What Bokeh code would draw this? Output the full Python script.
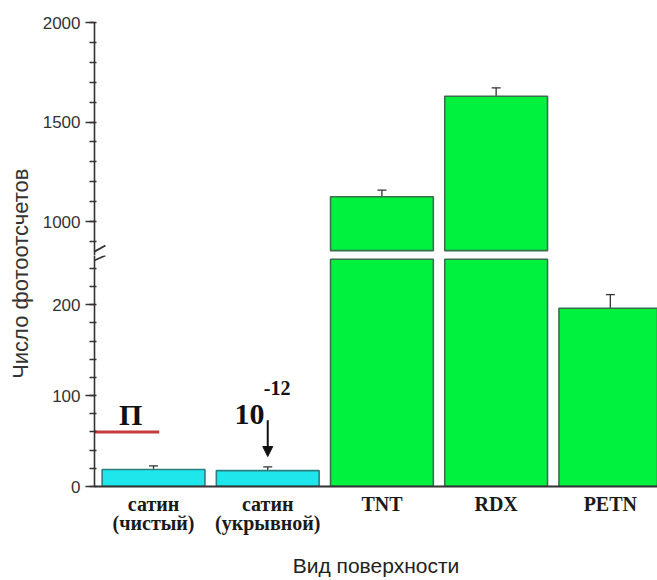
import math
from bokeh.plotting import figure
from bokeh.models import (ColumnDataSource, Range1d, SingleIntervalTicker, Whisker,
                          TeeHead, Label, Arrow, NormalHead, FixedTicker)
from bokeh.layouts import row, column
from bokeh.core.properties import value
from bokeh.embed import file_html
from bokeh.resources import INLINE

# ---- data ----
categories = ["сатин\n(чистый)", "сатин\n(укрывной)", "TNT", "RDX", "PETN"]
counts = [18.7, 17.5, 1125, 1630, 196]
errors = [4, 4, 33, 42, 15]
threshold = 60                      # level "П"

# axis break: lower panel ends / upper panel starts
BREAK_LOW = 250
BREAK_HIGH = 854

# ---- styles ----
fills = ["#1ee6ea", "#1ee6ea", "#00f23e", "#00f23e", "#00f23e"]
edges = ["#2b7f80", "#2b7f80", "#3b6e4c", "#3b6e4c", "#3b6e4c"]
AX = "#333333"
SANS = "Liberation Sans"
SERIF = "Liberation Serif"

idx = list(range(len(categories)))
xr = Range1d(-0.517, 4.413)
top_yr = Range1d(829.6, 2000.5)
bot_yr = Range1d(0, 254.1)

low = dict(x=idx, top=[min(v, BREAK_LOW) for v in counts], bottom=[0] * len(idx),
           fill=fills, edge=edges)
low_err = dict(x=[i for i, v in zip(idx, counts) if v < BREAK_LOW],
               upper=[v + e for v, e in zip(counts, errors) if v < BREAK_LOW],
               lower=[v - e for v, e in zip(counts, errors) if v < BREAK_LOW])
hi_sel = [i for i, v in zip(idx, counts) if v > BREAK_HIGH]
high = dict(x=hi_sel, top=[counts[i] for i in hi_sel], bottom=[BREAK_HIGH] * len(hi_sel),
            fill=[fills[i] for i in hi_sel], edge=[edges[i] for i in hi_sel])
high_err = dict(x=hi_sel, upper=[counts[i] + errors[i] for i in hi_sel],
                lower=[counts[i] - errors[i] for i in hi_sel])


def style_yaxis(ax):
    ax.axis_line_color = AX
    ax.axis_line_width = 1.6
    ax.major_tick_line_color = AX
    ax.major_tick_line_width = 1.6
    ax.major_tick_out = 9
    ax.major_tick_in = 0
    ax.minor_tick_line_color = AX
    ax.minor_tick_line_width = 1.6
    ax.minor_tick_out = 5
    ax.minor_tick_in = 2
    ax.major_label_text_font = SANS
    ax.major_label_text_font_size = "17px"
    ax.major_label_text_color = AX
    ax.major_label_standoff = 5


def base_fig(height, y_range, **kw):
    p = figure(width=619, height=height, x_range=xr, y_range=y_range,
               output_backend="svg", toolbar_location=None,
               min_border_left=56, min_border_right=0, **kw)
    p.xgrid.visible = False
    p.ygrid.visible = False
    p.outline_line_color = None
    p.background_fill_color = "white"
    return p


def whisker(src):
    return Whisker(source=ColumnDataSource(src), base="x", upper="upper", lower="lower",
                   line_color=AX, line_width=1.3,
                   upper_head=TeeHead(size=9, line_color=AX, line_width=1.3),
                   lower_head=TeeHead(size=9, line_color=AX, line_width=1.3))


# ---- upper panel ----
p_top = base_fig(255, top_yr, x_axis_location=None, min_border_top=22, min_border_bottom=0)
p_top.yaxis[0].ticker = SingleIntervalTicker(interval=500, num_minor_ticks=5)
style_yaxis(p_top.yaxis[0])
p_top.vbar(x="x", top="top", bottom="bottom", width=0.9, source=ColumnDataSource(high),
           fill_color="fill", line_color="edge", line_width=1.6)
p_top.add_layout(whisker(high_err))
# upper stroke of the axis-break mark
p_top.add_layout(Arrow(end=None, x_start=xr.start - 0.061, y_start=top_yr.start,
                       x_end=xr.start + 0.096, y_end=880,
                       line_color=AX, line_width=1.8))

# ---- lower panel ----
p_bot = base_fig(325, bot_yr, min_border_top=0, min_border_bottom=93)
p_bot.yaxis[0].ticker = SingleIntervalTicker(interval=100, num_minor_ticks=5)
style_yaxis(p_bot.yaxis[0])
p_bot.vbar(x="x", top="top", bottom="bottom", width=0.9, source=ColumnDataSource(low),
           fill_color="fill", line_color="edge", line_width=1.6)
p_bot.add_layout(whisker(low_err))
# lower stroke of the axis-break mark
p_bot.add_layout(Arrow(end=None, x_start=xr.start - 0.061, y_start=245.3,
                       x_end=xr.start + 0.096, y_end=bot_yr.end,
                       line_color=AX, line_width=1.8))

xa = p_bot.xaxis[0]
xa.ticker = FixedTicker(ticks=idx)
xa.major_label_overrides = {i: c for i, c in zip(idx, categories)}
xa.axis_line_color = AX
xa.axis_line_width = 2
xa.major_tick_line_color = None
xa.minor_tick_line_color = None
xa.major_label_text_font = SERIF
xa.major_label_text_font_style = "bold"
xa.major_label_text_font_size = "20px"
xa.major_label_text_color = "#1a1a1a"
xa.major_label_text_line_height = 0.9
xa.major_label_standoff = 0
xa.axis_label = "Вид поверхности"
xa.axis_label_text_font = SANS
xa.axis_label_text_font_style = "normal"
xa.axis_label_text_font_size = "21px"
xa.axis_label_text_color = "#222222"
xa.axis_label_standoff = 17

# threshold line "П"
p_bot.segment(x0=xr.start, y0=threshold, x1=0.05, y1=threshold,
              line_color="#c8393c", line_width=3)
p_bot.add_layout(Label(x=-0.2, y=79, text="П", text_align="center",
                       text_baseline="alphabetic", text_font=SERIF,
                       text_font_style="bold", text_font_size="30px", text_color="#111111"))
# sensitivity annotation 10^-12
p_bot.add_layout(Label(x=0.84, y=79, text="10", text_align="center",
                       text_baseline="alphabetic", text_font=SERIF,
                       text_font_style="bold", text_font_size="30px", text_color="#111111"))
p_bot.add_layout(Label(x=0.965, y=108, text="-12", text_align="left",
                       text_baseline="alphabetic", text_font=SERIF,
                       text_font_style="bold", text_font_size="20px", text_color="#111111"))
p_bot.add_layout(Arrow(end=NormalHead(size=10, fill_color="#111111", line_color="#111111"),
                       x_start=1.0, y_start=73, x_end=1.0, y_end=33,
                       line_color="#111111", line_width=2))

# ---- y title panel ----
p_title = figure(width=38, height=580, x_range=(0, 1), y_range=(0, 1),
                 output_backend="svg", toolbar_location=None,
                 min_border=0, x_axis_location=None, y_axis_location=None)
p_title.xgrid.visible = False
p_title.ygrid.visible = False
p_title.outline_line_color = None
p_title.text(x=[0.53], y=[0.529], text=["Число фотоотсчетов"], angle=math.pi / 2,
             text_align="center", text_baseline="middle",
             text_font=value(SANS), text_font_size="22px", text_color="#333333")

layout = row(p_title, column(p_top, p_bot))
open("out.html", "w").write(file_html(layout, INLINE))
